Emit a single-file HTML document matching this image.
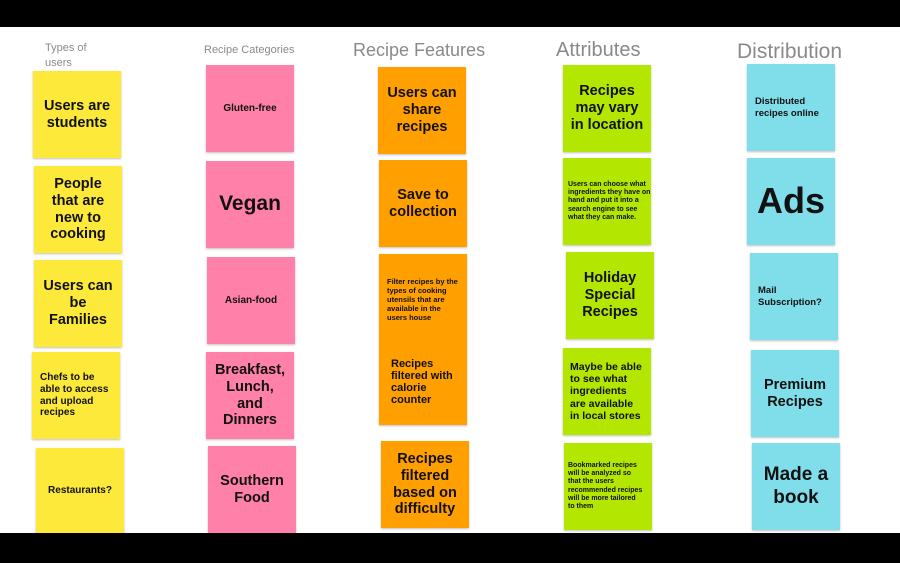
<!DOCTYPE html>
<html><head><meta charset="utf-8"><style>
body{margin:0;width:900px;height:563px;background:#fff;position:relative;overflow:hidden;font-family:"Liberation Sans",sans-serif}
.bar{position:absolute;left:0;width:900px;background:#000}
.n{position:absolute;width:88px;height:87px;display:flex;align-items:center;justify-content:center;text-align:center;font-weight:bold;color:#111;box-shadow:0 1px 2px rgba(0,0,0,.25);box-sizing:border-box;line-height:1.17}
.y{background:#fde93a}.p{background:#ff80a8}.o{background:#ff9f00}.g{background:#b3e600}.c{background:#80deea}
.l{justify-content:flex-start;text-align:left;padding-left:8px}
.h{position:absolute;color:#8a8a8a;white-space:nowrap}
.b{font-size:14.5px}
</style></head><body>
<div class="bar" style="top:0;height:27px"></div>
<div class="bar" style="top:533px;height:30px"></div>
<div class="h" style="left:45px;top:41px;font-size:11px;line-height:15px">Types of<br>users</div>
<div class="h" style="left:204px;top:44px;font-size:11px">Recipe Categories</div>
<div class="h" style="left:353px;top:40px;font-size:18px">Recipe Features</div>
<div class="h" style="left:556px;top:39px;font-size:20px">Attributes</div>
<div class="h" style="left:737px;top:40px;font-size:21px">Distribution</div>

<div class="n y b" style="left:33px;top:71px">Users are<br>students</div>
<div class="n y b" style="left:34px;top:166px">People<br>that are<br>new to<br>cooking</div>
<div class="n y b" style="left:34px;top:260px">Users can<br>be<br>Families</div>
<div class="n y l" style="left:32px;top:352px;font-size:10px">Chefs to be<br>able to access<br>and upload<br>recipes</div>
<div class="n y" style="left:36px;top:448px;height:85px;font-size:10px">Restaurants?</div>

<div class="n p" style="left:206px;top:65px;font-size:10px">Gluten-free</div>
<div class="n p" style="left:206px;top:161px;font-size:21px">Vegan</div>
<div class="n p" style="left:207px;top:257px;font-size:10px">Asian-food</div>
<div class="n p b" style="left:206px;top:352px">Breakfast,<br>Lunch,<br>and<br>Dinners</div>
<div class="n p b" style="left:208px;top:446px">Southern<br>Food</div>

<div class="n o b" style="left:378px;top:67px">Users can<br>share<br>recipes</div>
<div class="n o b" style="left:379px;top:160px">Save to<br>collection</div>
<div class="n o" style="left:379px;top:254px;height:171px;display:block;text-align:left;padding:23px 0 0 8px;font-size:7.5px;line-height:1.2">Filter recipes by the<br>types of cooking<br>utensils that are<br>available in the<br>users house
<div style="margin-top:36px;font-size:11px;line-height:1.1;padding-left:4px">Recipes<br>filtered with<br>calorie<br>counter</div></div>
<div class="n o b" style="left:381px;top:441px">Recipes<br>filtered<br>based on<br>difficulty</div>

<div class="n g b" style="left:563px;top:65px">Recipes<br>may vary<br>in location</div>
<div class="n g l" style="left:563px;top:158px;font-size:7px;padding-left:5px">Users can choose what ingredients they have on hand and put it into a search engine to see what they can make.</div>
<div class="n g b" style="left:566px;top:252px">Holiday<br>Special<br>Recipes</div>
<div class="n g l" style="left:563px;top:348px;font-size:10.5px;padding-left:7px">Maybe be able<br>to see what<br>ingredients<br>are available<br>in local stores</div>
<div class="n g l" style="left:564px;top:443px;font-size:7px;padding-left:4px">Bookmarked recipes<br>will be analyzed so<br>that the users<br>recommended recipes<br>will be more tailored<br>to them</div>

<div class="n c l" style="left:747px;top:64px;font-size:9.5px">Distributed<br>recipes online</div>
<div class="n c" style="left:747px;top:158px;font-size:36px">Ads</div>
<div class="n c l" style="left:750px;top:253px;font-size:9.5px">Mail<br>Subscription?</div>
<div class="n c b" style="left:751px;top:350px">Premium<br>Recipes</div>
<div class="n c" style="left:752px;top:443px;font-size:19px;line-height:1.2">Made a<br>book</div>
</body></html>
